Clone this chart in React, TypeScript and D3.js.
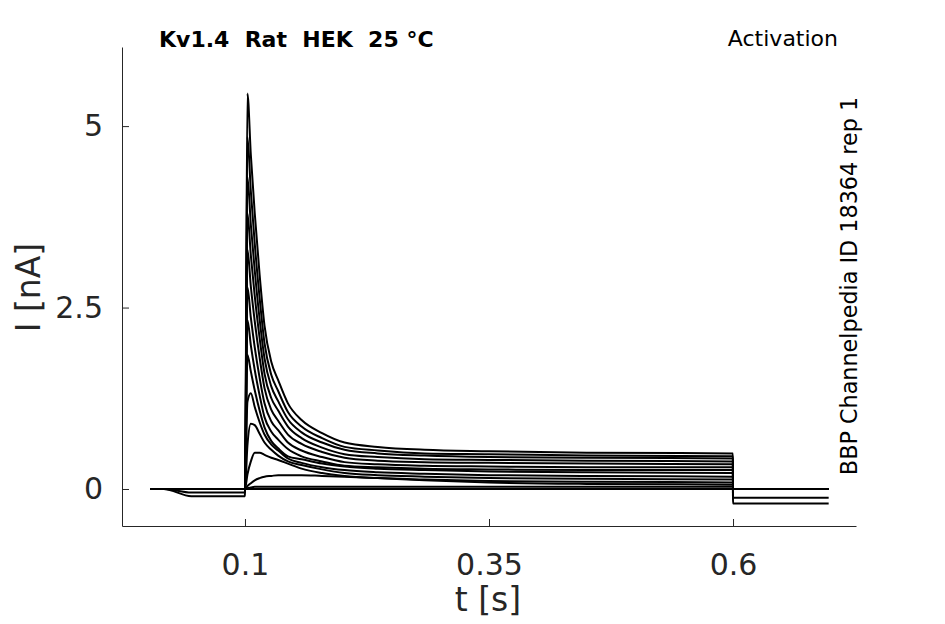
import React, { useRef, useEffect } from 'react';
import * as d3 from 'd3';

// sample times (s) shared by every sweep
const times = [0.003, 0.017, 0.045, 0.0999, 0.1, 0.1025, 0.106, 0.11, 0.115, 0.12, 0.127, 0.134, 0.144, 0.158, 0.179, 0.202, 0.236, 0.284, 0.35, 0.45, 0.5999, 0.6, 0.698];

// current (nA) of each sweep at those times
const sweep1 = [0, 0, 0, 0, 0, 5.45, 4.6, 3.8, 2.95, 2.25, 1.75, 1.5, 1.18, 0.95, 0.77, 0.64, 0.58, 0.54, 0.52, 0.5, 0.49, 0, 0];
const sweep2 = [0, 0, 0, 0, 0, 4.85, 4.1, 3.38, 2.63, 2.01, 1.57, 1.35, 1.06, 0.86, 0.7, 0.58, 0.53, 0.49, 0.48, 0.46, 0.45, 0, 0];
const sweep3 = [0, 0, 0, 0, 0, 4.3, 3.64, 3.01, 2.34, 1.8, 1.41, 1.21, 0.96, 0.78, 0.64, 0.54, 0.49, 0.46, 0.44, 0.43, 0.42, 0, 0];
const sweep4 = [0, 0, 0, 0, 0, 3.8, 3.22, 2.66, 2.08, 1.59, 1.25, 1.08, 0.86, 0.7, 0.57, 0.48, 0.44, 0.41, 0.4, 0.39, 0.38, 0, 0];
const sweep5 = [0, 0, 0, 0, 0, 3.3, 2.79, 2.31, 1.81, 1.39, 1.09, 0.94, 0.75, 0.62, 0.51, 0.43, 0.39, 0.37, 0.36, 0.35, 0.34, 0, 0];
const sweep6 = [0, 0, 0, 0, 0, 2.78, 2.36, 1.95, 1.53, 1.18, 0.93, 0.81, 0.64, 0.53, 0.44, 0.37, 0.34, 0.32, 0.31, 0.3, 0.3, 0, 0];
const sweep7 = [0, 0, 0, 0, 0, 2.33, 1.98, 1.64, 1.29, 0.99, 0.79, 0.68, 0.55, 0.45, 0.38, 0.32, 0.3, 0.28, 0.27, 0.26, 0.26, 0, 0];
const sweep8 = [0, 0, 0, 0, 0, 1.85, 1.62, 1.36, 1.08, 0.85, 0.66, 0.56, 0.45, 0.41, 0.35, 0.31, 0.28, 0.26, 0.24, 0.23, 0.22, 0, 0];
const sweep9 = [0, 0, 0, 0, 0, 1.2, 1.32, 1.13, 0.92, 0.75, 0.61, 0.53, 0.42, 0.36, 0.3, 0.26, 0.23, 0.21, 0.19, 0.18, 0.17, 0, 0];
const sweep10 = [0, 0, 0, 0, 0, 0.6, 0.9, 0.88, 0.76, 0.64, 0.54, 0.46, 0.38, 0.33, 0.27, 0.22, 0.19, 0.17, 0.15, 0.14, 0.13, 0, 0];
const sweep11 = [0, 0, 0, 0, 0, 0.2, 0.38, 0.5, 0.5, 0.47, 0.43, 0.4, 0.35, 0.28, 0.22, 0.18, 0.15, 0.13, 0.11, 0.1, 0.09, 0, 0];
const sweep12 = [0, 0, 0, 0, 0, 0.04, 0.08, 0.12, 0.15, 0.17, 0.18, 0.19, 0.19, 0.19, 0.18, 0.17, 0.15, 0.12, 0.09, 0.07, 0.06, 0, 0];
const sweep13 = [0, 0, 0, 0, 0, 0.01, 0.02, 0.03, 0.03, 0.03, 0.03, 0.03, 0.03, 0.03, 0.03, 0.03, 0.03, 0.03, 0.03, 0.03, 0.03, 0, 0];
const sweep14 = [0, 0, -0.1, -0.1, 0, 0, 0, 0, 0, 0, 0, 0, 0, 0, 0, 0, 0, 0, 0, 0, 0, -0.2, -0.2];
const sweep15 = [0, 0, -0.05, -0.05, 0, 0, 0, 0, 0, 0, 0, 0, 0, 0, 0, 0, 0, 0, 0, 0, 0, -0.12, -0.12];

const sweeps = [sweep1, sweep2, sweep3, sweep4, sweep5, sweep6, sweep7, sweep8, sweep9, sweep10, sweep11, sweep12, sweep13, sweep14, sweep15];

const xTicks = [0.1, 0.35, 0.6];
const xTickLabels = ['0.1', '0.35', '0.6'];
const yTicks = [0, 2.5, 5];
const yTickLabels = ['0', '2.5', '5'];

const titleText = 'Kv1.4  Rat  HEK  25 °C';
const protocolText = 'Activation';
const sourceText = 'BBP Channelpedia ID 18364 rep 1';

const App: React.FC = () => {
  const svgRef = useRef<SVGSVGElement | null>(null);

  useEffect(() => {
    if (!svgRef.current) {
      return;
    }
    document.body.style.margin = '0';
    const width = 945;
    const height = 624;
    const left = 122;
    const right = 856;
    const top = 47;
    const bottom = 526;
    const axisColor = '#262626';
    const font = '"DejaVu Sans", sans-serif';

    const svg = d3.select(svgRef.current)
      .attr('width', width)
      .attr('height', height)
      .attr('viewBox', [0, 0, width, height].join(' '))
      .style('display', 'block')
      .style('background', '#fff');
    svg.selectAll('*').remove();

    const x = d3.scaleLinear().domain([-0.026, 0.726]).range([left, right]);
    const y = d3.scaleLinear().domain([-0.51, 6.09]).range([bottom, top]);

    const line = d3.line<number>()
      .x((_, i) => x(times[i]))
      .y(d => y(d))
      .curve(d3.curveMonotoneX);

    // draw the sweeps
    svg.append('g')
      .selectAll('path')
      .data(sweeps)
      .join('path')
      .attr('fill', 'none')
      .attr('stroke', '#000')
      .attr('stroke-width', 2)
      .attr('stroke-linejoin', 'round')
      .attr('d', d => line(d));

    // x axis, ticks inward
    svg.append('g')
      .attr('transform', `translate(0,${bottom})`)
      .call(d3.axisBottom(x)
        .tickValues(xTicks)
        .tickFormat((_, i) => xTickLabels[i])
        .tickSize(-7)
        .tickSizeOuter(0)
        .tickPadding(28))
      .call(g => g.select('.domain').attr('stroke', axisColor))
      .call(g => g.selectAll('.tick line').attr('stroke', axisColor))
      .call(g => g.selectAll('.tick text')
        .attr('fill', axisColor)
        .style('font-family', font)
        .style('font-size', '30px'));

    // y axis, ticks inward
    svg.append('g')
      .attr('transform', `translate(${left},0)`)
      .call(d3.axisLeft(y)
        .tickValues(yTicks)
        .tickFormat((_, i) => yTickLabels[i])
        .tickSize(-7)
        .tickSizeOuter(0)
        .tickPadding(19))
      .call(g => g.select('.domain').attr('stroke', axisColor))
      .call(g => g.selectAll('.tick line').attr('stroke', axisColor))
      .call(g => g.selectAll('.tick text')
        .attr('fill', axisColor)
        .style('font-family', font)
        .style('font-size', '30px'));

    // axis labels
    svg.append('text')
      .attr('x', (left + right) / 2 - 1)
      .attr('y', 611)
      .attr('text-anchor', 'middle')
      .attr('fill', axisColor)
      .style('font-family', font)
      .style('font-size', '33px')
      .text('t [s]');

    svg.append('text')
      .attr('transform', `translate(40,${(top + bottom) / 2 + 1}) rotate(-90)`)
      .attr('text-anchor', 'middle')
      .attr('fill', axisColor)
      .style('font-family', font)
      .style('font-size', '33px')
      .text('I [nA]');

    // title and annotations
    svg.append('text')
      .attr('x', 159)
      .attr('y', 47)
      .attr('fill', '#000')
      .style('font-family', font)
      .style('font-size', '22px')
      .style('font-weight', 'bold')
      .style('white-space', 'pre')
      .text(titleText);

    svg.append('text')
      .attr('x', 838)
      .attr('y', 46)
      .attr('text-anchor', 'end')
      .attr('fill', '#000')
      .style('font-family', font)
      .style('font-size', '22px')
      .text(protocolText);

    svg.append('text')
      .attr('transform', `translate(857,286) rotate(-90)`)
      .attr('text-anchor', 'middle')
      .attr('fill', '#000')
      .style('font-family', font)
      .style('font-size', '22.3px')
      .text(sourceText);
  }, []);

  return <svg ref={svgRef} />;
};

export default App;
